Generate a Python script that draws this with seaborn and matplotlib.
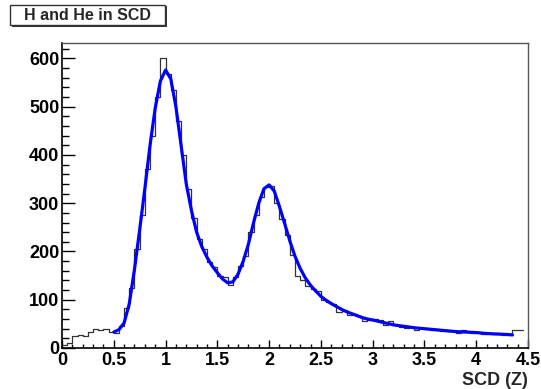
import numpy as np
import pandas as pd
import matplotlib.pyplot as plt
from matplotlib.ticker import MultipleLocator, FuncFormatter
from matplotlib.patches import Rectangle
import seaborn as sns

# histogram of SCD charge, bins of 0.05 starting at 0
bin_width = 0.05
counts = [7, 10, 24, 27, 24, 33, 40, 37, 40, 33,
          32, 45, 82, 125, 205, 275, 370, 440, 520, 600,
          568, 535, 470, 400, 330, 270, 225, 205, 178, 168,
          150, 148, 130, 148, 170, 190, 240, 275, 312, 334,
          336, 300, 268, 234, 192, 150, 140, 128, 122, 118,
          100, 95, 92, 75, 78, 68, 70, 66, 56, 58,
          60, 58, 48, 55, 47, 44, 42, 43, 38, 41,
          40, 37, 38, 36, 35, 36, 31, 37, 33, 31,
          33, 30, 31, 28, 30, 27, 29, 37, 37]

# fitted curve
fit_x = [0.50, 0.55, 0.60, 0.65, 0.70, 0.75, 0.80, 0.85, 0.90, 0.95,
         1.00, 1.05, 1.10, 1.15, 1.20, 1.25, 1.30, 1.35, 1.40, 1.45,
         1.50, 1.55, 1.60, 1.65, 1.70, 1.75, 1.80, 1.85, 1.90, 1.95,
         2.00, 2.05, 2.10, 2.15, 2.20, 2.25, 2.30, 2.35, 2.40, 2.45,
         2.50, 2.55, 2.60, 2.65, 2.70, 2.75, 2.80, 2.85, 2.90, 2.95,
         3.00, 3.10, 3.20, 3.30, 3.40, 3.50, 3.60, 3.70, 3.80, 3.90,
         4.00, 4.10, 4.20, 4.30, 4.35]
fit_y = [33, 38, 52, 92, 163, 245, 330, 420, 497, 553,
         576, 558, 500, 420, 340, 285, 240, 210, 188, 170,
         156, 143, 135, 137, 153, 180, 215, 260, 300, 330,
         338, 325, 293, 258, 222, 190, 165, 145, 130, 118,
         107, 99, 92, 86, 80, 75, 71, 67, 63, 60,
         58, 53, 48, 45, 42, 40, 38, 36, 34, 33,
         32, 30, 29, 28, 27]

sns.set_style('ticks')
plt.rcParams['font.family'] = ['Liberation Sans', 'DejaVu Sans']
plt.rcParams['font.weight'] = 'bold'

centers = (np.arange(len(counts)) + 0.5) * bin_width
hist_df = pd.DataFrame({'scd': centers, 'n': counts})
fit_df = pd.DataFrame({'scd': fit_x, 'fit': fit_y})

fig = plt.figure(figsize=(5.41, 3.89), dpi=100)
ax = fig.add_axes([62 / 541, 1 - 348 / 389, 466 / 541, 305 / 389])

sns.histplot(data=hist_df, x='scd', weights='n', binwidth=bin_width,
             binrange=(0, len(counts) * bin_width), element='step',
             fill=False, color='#333333', linewidth=0.9, ax=ax)
sns.lineplot(data=fit_df, x='scd', y='fit', color='#0000ff', linewidth=2.3, ax=ax)

ax.set_xlim(0, 4.5)
ax.set_ylim(0, 632)
ax.xaxis.set_major_locator(MultipleLocator(0.5))
ax.xaxis.set_minor_locator(MultipleLocator(0.1))
ax.yaxis.set_major_locator(MultipleLocator(100))
ax.yaxis.set_minor_locator(MultipleLocator(20))
ax.xaxis.set_major_formatter(FuncFormatter(lambda v, p: f'{v:g}'))
ax.tick_params(axis='both', which='both', direction='in', labelsize=13,
               colors='black', width=1)
ax.tick_params(axis='x', which='major', length=6, pad=3)
ax.tick_params(axis='x', which='minor', length=3)
ax.tick_params(axis='y', which='major', length=9, pad=2)
ax.tick_params(axis='y', which='minor', length=5)
for lab in ax.get_xticklabels() + ax.get_yticklabels():
    lab.set_fontweight('bold')

for side in ['left', 'bottom']:
    ax.spines[side].set_color('black')
    ax.spines[side].set_linewidth(1.2)
for side in ['top', 'right']:
    ax.spines[side].set_visible(True)
    ax.spines[side].set_color('#555555')
    ax.spines[side].set_linewidth(1.0)

ax.set_ylabel('')
ax.set_xlabel('SCD (Z)', loc='right', fontsize=13, fontweight='bold', labelpad=2)

# title box with shadow, as in the original
W, H = 541, 389
fig.patches.append(Rectangle((12 / W, 1 - 27 / H), 155 / W, 21 / H,
                             transform=fig.transFigure, facecolor='#333333',
                             edgecolor='none'))
fig.patches.append(Rectangle((10 / W, 1 - 25 / H), 155 / W, 20 / H,
                             transform=fig.transFigure, facecolor='white',
                             edgecolor='#333333', linewidth=1))
fig.text(87.5 / W, 1 - 15 / H, 'H and He in SCD', ha='center', va='center',
         fontsize=11.5, fontweight='bold')

fig.savefig('out.png', dpi=100)
